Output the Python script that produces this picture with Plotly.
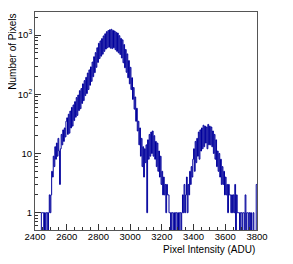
import plotly.graph_objects as go

# Histogram: 5-ADU bins from 2400 to 3800 (counts)
bin_start = 2400
bin_width = 5
counts = [
    0, 0, 0, 0, 0, 0, 0, 0, 1, 1,                     # 2400
    1, 0, 1, 0, 1, 1, 0, 1, 2, 1,                     # 2450
    2, 5, 4, 9, 6, 13, 8, 15, 9, 18,                  # 2500
    11, 3, 12, 21, 14, 25, 16, 27, 19, 35,            # 2550
    40, 21, 46, 22, 52, 27, 60, 29, 66, 36,           # 2600
    75, 41, 88, 44, 97, 53, 115, 57, 125, 70,         # 2650
    150, 78, 170, 95, 193, 103, 228, 120, 258, 142,   # 2700
    290, 165, 350, 198, 430, 232, 505, 285, 610, 345, # 2750
    725, 400, 795, 440, 870, 475, 965, 530, 1050, 580,   # 2800
    1140, 610, 1190, 625, 1230, 600, 1250, 590, 1200, 610,  # 2850
    1170, 565, 1110, 530, 1080, 500, 975, 470, 880, 410,    # 2900
    830, 340, 690, 280, 570, 235, 480, 190, 370, 150, # 2950
    285, 120, 190, 82, 130, 56, 90, 35, 58, 24,       # 3000
    35, 14, 27, 9, 18, 6, 13, 4, 12, 7,               # 3050
    14, 1, 17, 8, 21, 9, 23, 10, 24, 9,               # 3100
    20, 8, 16, 6, 15, 5, 11, 4, 9, 3,                 # 3150
    5, 2, 4, 2, 3, 1, 3, 2, 2, 1,                     # 3200
    1, 0, 1, 1, 0, 1, 0, 1, 1, 0,                     # 3250
    1, 0, 1, 1, 0, 1, 2, 1, 3, 1,                     # 3300
    2, 4, 1, 3, 2, 5, 3, 6, 4, 8,                     # 3350
    12, 5, 16, 7, 18, 9, 23, 8, 25, 11,               # 3400
    27, 12, 30, 13, 29, 15, 28, 12, 31, 14,           # 3450
    29, 14, 28, 13, 24, 10, 21, 8, 17, 6,             # 3500
    11, 5, 10, 4, 8, 3, 6, 3, 5, 2,                   # 3550
    4, 2, 3, 1, 3, 2, 2, 1, 2, 1,                     # 3600
    2, 1, 3, 0, 2, 1, 1, 1, 0, 1,                     # 3650
    1, 0, 1, 1, 0, 2, 0, 1, 1, 0,                     # 3700
    1, 0, 1, 0, 0, 1, 0, 0, 0, 3,                     # 3750
]

x_ticks = [2400, 2600, 2800, 3000, 3200, 3400, 3600, 3800]
y_ticks = [1, 10, 100, 1000]
y_tick_text = ["1", "10", "10<sup>2</sup>", "10<sup>3</sup>"]
y_minor = [0.6, 0.7, 0.8, 0.9] + [m * d for d in (1, 10, 100) for m in range(2, 10)] + [2000]

edges = [bin_start + i * bin_width for i in range(len(counts) + 1)]
plot_y = [c if c > 0 else 0.05 for c in counts]
xs = edges
ys = plot_y + [plot_y[-1]]

fig = go.Figure()
fig.add_trace(go.Scatter(
    x=xs, y=ys, mode="lines", line=dict(shape="hv", color="#00009c", width=1),
    hoverinfo="skip", showlegend=False,
))

font = "Liberation Sans, Arial, Helvetica, sans-serif"
# page body has an 8px margin, so the figure is 8px smaller than the window
fig.update_layout(
    width=285, height=256,
    margin=dict(l=27, r=36, t=4, b=34),
    paper_bgcolor="white", plot_bgcolor="white",
    font=dict(family=font, size=9.5, color="black"),
    showlegend=False,
)
fig.update_xaxes(
    range=[2400, 3800], tickvals=x_ticks, ticks="inside", ticklen=6, tickcolor="#333",
    showline=True, linecolor="#555", linewidth=1, mirror=True, showgrid=False, zeroline=False,
    minor=dict(dtick=50, tick0=2400, ticks="inside", ticklen=3, tickcolor="#333", showgrid=False),
    tickfont=dict(size=9.5), ticklabelstandoff=-2,
)
fig.update_yaxes(
    type="log", range=[-0.292, 3.389], tickvals=y_ticks, ticktext=y_tick_text,
    ticks="inside", ticklen=6, tickcolor="#333",
    showline=True, linecolor="#555", linewidth=1, mirror=True, showgrid=False, zeroline=False,
    minor=dict(tickvals=y_minor, ticks="inside", ticklen=3, tickcolor="#333", showgrid=False),
    tickfont=dict(size=9.5),
)
fig.add_annotation(
    text="Pixel Intensity (ADU)", xref="paper", yref="paper", x=1.0, y=-0.055,
    xanchor="right", yanchor="top", showarrow=False, font=dict(size=10),
)
fig.add_annotation(
    text="Number of Pixels", xref="paper", yref="paper", x=-0.105, y=1.0,
    xanchor="center", yanchor="top", textangle=-90, showarrow=False, font=dict(size=10),
)
fig.write_html("out.html")
